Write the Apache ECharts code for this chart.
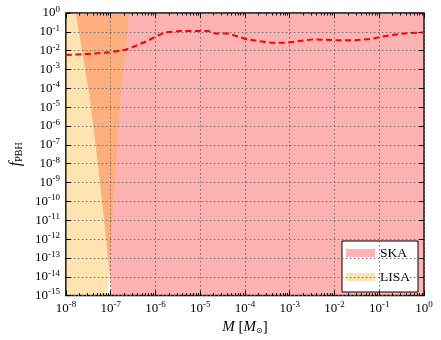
<!DOCTYPE html>
<html>
<head>
<meta charset="utf-8">
<script src="https://cdn.jsdelivr.net/npm/echarts@6/dist/echarts.min.js"></script>
<style>
  html, body { margin: 0; padding: 0; background: #fff; }
  #main { width: 441px; height: 340px; }
</style>
</head>
<body>
<div id="main"></div>
<script>
// all values are log10
var curveLogM = [-8, -7.5, -7, -6.67, -6.45, -6.17, -6.0, -5.78, -5.46, -5.2, -4.93, -4.82, -4.79, -4.74, -4.65, -4.37, -4.15, -4.0, -3.71, -3.41, -3.07, -2.85, -2.48, -2.04, -1.54, -1.17, -0.96, -0.52, -0.09, 0];
var curveLogF = [-2.23, -2.17, -2.08, -1.95, -1.75, -1.47, -1.26, -1.02, -0.96, -0.95, -0.96, -0.95, -0.9, -1.04, -1.09, -1.09, -1.25, -1.37, -1.49, -1.58, -1.58, -1.51, -1.40, -1.44, -1.44, -1.37, -1.26, -1.10, -1.04, -1.03];

var edgeLogF = [0, -4.58, -7.74, -10.89, -15];
var skaEdgeLogM = [-7.78, -7.46, -7.30, -7.15, -6.98];
var lisaEdgeLogM = [-6.59, -6.78, -6.88, -6.96, -7.07];

var xMinExp = -8, xMaxExp = 0;
var yMinExp = -15, yMaxExp = 0;

function p10(v) { return Math.pow(10, v); }

var curve = curveLogM.map(function (m, i) { return [p10(m), p10(curveLogF[i])]; });
var skaPoly = skaEdgeLogM.map(function (m, i) { return [p10(m), p10(edgeLogF[i])]; })
  .concat([[p10(xMaxExp), p10(yMinExp)], [p10(xMaxExp), p10(yMaxExp)]]);
var lisaPoly = lisaEdgeLogM.map(function (m, i) { return [p10(m), p10(edgeLogF[i])]; })
  .concat([[p10(xMinExp), p10(yMinExp)], [p10(xMinExp), p10(yMaxExp)]]);

var serif = 'Liberation Serif';
var skaColor = 'rgba(255,0,0,0.3)';
var lisaColor = 'rgba(255,165,0,0.3)';

function expLabel(v) {
  var e = Math.round(Math.log10(v));
  return '{b|10}{s|' + e + '}';
}
var labelRich = {
  b: { fontSize: 13, fontFamily: serif, color: '#000' },
  s: { fontSize: 9, fontFamily: serif, color: '#000', padding: [0, 0, 7, 0] }
};

// one polygon per series, drawn through the axes
function polyRender(pts, color) {
  return function (params, api) {
    if (params.dataIndex !== 0) return;
    return {
      type: 'polygon',
      shape: { points: pts.map(function (d) { return api.coord(d); }) },
      style: { fill: color }
    };
  };
}

var gridLine = { show: true, lineStyle: { color: '#6a6a6a', width: 1, type: [1.5, 2.5] } };
var tick = { show: true, inside: true, length: 5, lineStyle: { color: '#000', width: 1 } };
var minor = { show: true, splitNumber: 9, length: 2.5, lineStyle: { color: '#000' } };

var myChart = echarts.init(document.getElementById('main'));
var option = {
  animation: false,
  grid: { left: 56, right: 17, top: 13, bottom: 42, show: true, borderColor: '#000', borderWidth: 1.5, backgroundColor: 'transparent' },
  legend: {
    orient: 'vertical',
    right: 23, bottom: 48,
    padding: [5, 8, 8, 4],
    itemWidth: 29, itemHeight: 8, itemGap: 10,
    icon: 'rect',
    backgroundColor: '#fff',
    borderColor: '#000', borderWidth: 1,
    borderRadius: 0,
    textStyle: { fontFamily: serif, fontSize: 13.5, color: '#000' },
    data: ['SKA', 'LISA']
  },
  xAxis: [{
    type: 'log', logBase: 10, min: p10(xMinExp), max: p10(xMaxExp), interval: 1,
    z: 5,
    axisLine: { show: false },
    axisTick: tick,
    minorTick: minor,
    splitLine: gridLine,
    axisLabel: { formatter: expLabel, rich: labelRich, margin: 5 },
    name: '{i|M} [{i|M}{sub|\u2299}]',
    nameLocation: 'middle', nameGap: 20,
    nameTextStyle: { fontFamily: serif, fontSize: 15, color: '#000', rich: {
      i: { fontFamily: serif, fontStyle: 'italic', fontSize: 15, color: '#000' },
      sub: { fontFamily: 'DejaVu Sans', fontSize: 8, color: '#000', padding: [6, 0, 0, 0] }
    } }
  }, {
    type: 'log', logBase: 10, min: p10(xMinExp), max: p10(xMaxExp), interval: 1,
    position: 'top', z: 5,
    axisLine: { show: false }, axisTick: tick, minorTick: minor,
    splitLine: { show: false }, axisLabel: { show: false }
  }],
  yAxis: [{
    type: 'log', logBase: 10, min: p10(yMinExp), max: p10(yMaxExp), interval: 1,
    z: 5,
    axisLine: { show: false },
    axisTick: tick,
    splitLine: gridLine,
    axisLabel: { formatter: expLabel, rich: labelRich, margin: 6 },
    name: '{i|f}{sub|PBH}',
    nameLocation: 'middle', nameGap: 37, nameRotate: 90,
    nameTextStyle: { fontFamily: serif, fontSize: 16, color: '#000', rich: {
      i: { fontFamily: serif, fontStyle: 'italic', fontSize: 16, color: '#000' },
      sub: { fontFamily: serif, fontSize: 10, color: '#000', padding: [6, 0, 0, 0] }
    } }
  }, {
    type: 'log', logBase: 10, min: p10(yMinExp), max: p10(yMaxExp), interval: 1,
    position: 'right', z: 5,
    axisLine: { show: false }, axisTick: tick,
    splitLine: { show: false }, axisLabel: { show: false }
  }],
  series: [{
    name: 'SKA', type: 'custom', renderItem: polyRender(skaPoly, skaColor), clip: true,
    itemStyle: { color: skaColor },
    encode: { x: 0, y: 1 },
    data: skaPoly, z: 1
  }, {
    name: 'LISA', type: 'custom', renderItem: polyRender(lisaPoly, lisaColor), clip: true,
    itemStyle: { color: lisaColor },
    encode: { x: 0, y: 1 },
    data: lisaPoly, z: 2
  }, {
    name: 'limit', type: 'line', data: curve, symbol: 'none',
    z: 10,
    lineStyle: { color: '#ff0000', width: 2, type: [6, 3.5] }
  }]
};
myChart.setOption(option);
</script>
</body>
</html>
